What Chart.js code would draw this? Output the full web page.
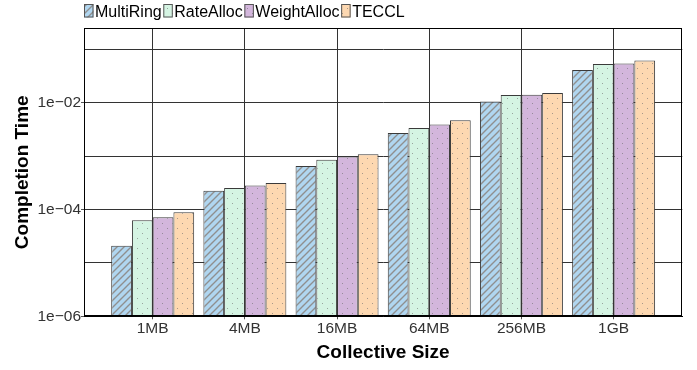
<!DOCTYPE html>
<html>
<head>
<meta charset="utf-8">
<script src="https://cdn.jsdelivr.net/npm/chart.js@4.4.1/dist/chart.umd.min.js"></script>
<style>
  body { margin: 0; background: #fff; }
  #chart { display: block; }
</style>
</head>
<body>
<canvas id="chart" width="697" height="370"></canvas>
<script>
// values (seconds)
const sizes = ['1MB', '4MB', '16MB', '64MB', '256MB', '1GB'];
const multiRing   = [2.1e-5, 2.24e-4, 6.5e-4, 2.7e-3, 1.06e-2, 4.1e-2];
const rateAlloc   = [6.3e-5, 2.52e-4, 8.6e-4, 3.35e-3, 1.39e-2, 5.3e-2];
const weightAlloc = [7.2e-5, 2.82e-4, 9.8e-4, 3.9e-3, 1.41e-2, 5.46e-2];
const teccl       = [8.9e-5, 3.13e-4, 1.09e-3, 4.7e-3, 1.52e-2, 6.2e-2];

const seriesNames = ['MultiRing', 'RateAlloc', 'WeightAlloc', 'TECCL'];
const yTickExponents = [-6, -5, -4, -3, -2, -1];
const yLabelExponents = [-6, -4, -2];

const FONT = '"Liberation Sans", Arial, Helvetica, sans-serif';
const canvas = document.getElementById('chart');
const ctx = canvas.getContext('2d');

function stripes(fill) {
  const c = document.createElement('canvas');
  c.width = 7; c.height = 7;
  const g = c.getContext('2d');
  g.fillStyle = fill;
  g.fillRect(0, 0, 7, 7);
  g.strokeStyle = '#8f8f8f';
  g.lineWidth = 1.4;
  g.beginPath();
  g.moveTo(-1, 8); g.lineTo(8, -1);
  g.moveTo(-1, 1); g.lineTo(1, -1);
  g.moveTo(6, 8); g.lineTo(8, 6);
  g.stroke();
  return ctx.createPattern(c, 'repeat');
}

function dots(fill) {
  const c = document.createElement('canvas');
  c.width = 10; c.height = 10;
  const g = c.getContext('2d');
  g.fillStyle = fill;
  g.fillRect(0, 0, 10, 10);
  g.fillStyle = 'rgba(110,110,110,0.6)';
  g.fillRect(2, 3, 1, 1);
  g.fillRect(7, 8, 1, 1);
  return ctx.createPattern(c, 'repeat');
}

const fills = [stripes('#b0d6f0'), dots('#d5f4e3'), dots('#d3b6dc'), dots('#fdd8b1')];
const series = [multiRing, rateAlloc, weightAlloc, teccl];

// legend drawn as one tight row above the panel
const topLegend = {
  id: 'topLegend',
  afterDraw(chart) {
    const c = chart.ctx;
    c.save();
    c.font = '16px ' + FONT;
    c.textBaseline = 'alphabetic';
    let x = 84;
    chart.data.datasets.forEach(ds => {
      c.fillStyle = ds.backgroundColor;
      c.fillRect(x, 4, 9.5, 13.5);
      c.strokeStyle = '#555';
      c.lineWidth = 1;
      c.strokeRect(x + 0.5, 4.5, 8.5, 12.5);
      c.fillStyle = '#000';
      c.fillText(ds.label, x + 11, 17.3);
      x += 11 + c.measureText(ds.label).width + 1.6;
    });
    c.restore();
  }
};

const panelBorder = {
  id: 'panelBorder',
  afterDraw(chart) {
    const a = chart.chartArea;
    const c = chart.ctx;
    c.save();
    c.strokeStyle = '#000';
    c.lineWidth = 1;
    c.strokeRect(Math.round(a.left) + 0.5, Math.round(a.top) + 0.5,
      Math.round(a.right - a.left) - 1, Math.round(a.bottom - a.top) - 1);
    c.restore();
  }
};

new Chart(canvas, {
  type: 'bar',
  data: {
    datasets: series.map((vals, k) => ({
      label: seriesNames[k],
      data: vals.map((v, i) => ({ x: i, y: v })),
      backgroundColor: fills[k],
      borderColor: '#3a3a3a',
      borderWidth: 1,
      categoryPercentage: 0.9,
      barPercentage: 1.0
    }))
  },
  options: {
    responsive: false,
    animation: false,
    layout: { padding: { top: 28.3, right: 14.7, left: 0, bottom: 0 } },
    plugins: { legend: { display: false }, tooltip: { enabled: false } },
    scales: {
      x: {
        type: 'linear',
        offset: false,
        min: -0.745,
        max: 5.745,
        afterBuildTicks: s => { s.ticks = sizes.map((_, i) => ({ value: i })); },
        afterFit: s => { s.height = 53.7; },
        ticks: {
          autoSkip: false,
          maxRotation: 0,
          padding: 0,
          color: '#333',
          font: { family: FONT, size: 15.5 },
          callback: v => sizes[v]
        },
        grid: { offset: false, color: '#333', lineWidth: 1, tickLength: 3, tickColor: '#555' },
        border: { color: '#000', width: 1 },
        title: {
          display: true,
          text: 'Collective Size',
          color: '#000',
          font: { family: FONT, size: 19, weight: 'bold' },
          padding: { top: 0, bottom: 5.6 }
        }
      },
      y: {
        type: 'logarithmic',
        min: 1e-6,
        max: 0.248,
        afterBuildTicks: s => { s.ticks = yTickExponents.map(e => ({ value: Math.pow(10, e) })); },
        afterFit: s => { s.width = 84; },
        ticks: {
          autoSkip: false,
          padding: 0,
          color: '#333',
          font: { family: FONT, size: 15.5 },
          callback: v => {
            const e = Math.round(Math.log10(v));
            return yLabelExponents.includes(e) ? '1e\u2212' + String(-e).padStart(2, '0') : '';
          }
        },
        grid: {
          color: '#333',
          lineWidth: 1,
          tickLength: 3,
          tickColor: c => {
            if (!c.tick) return 'rgba(0,0,0,0)';
            const e = Math.round(Math.log10(c.tick.value));
            return yLabelExponents.includes(e) ? '#555' : 'rgba(0,0,0,0)';
          }
        },
        border: { color: '#000', width: 1 },
        title: {
          display: true,
          text: 'Completion Time',
          color: '#000',
          font: { family: FONT, size: 19, weight: 'bold' },
          padding: { top: 11.4, bottom: 0 }
        }
      }
    }
  },
  plugins: [topLegend, panelBorder]
});
</script>
</body>
</html>
